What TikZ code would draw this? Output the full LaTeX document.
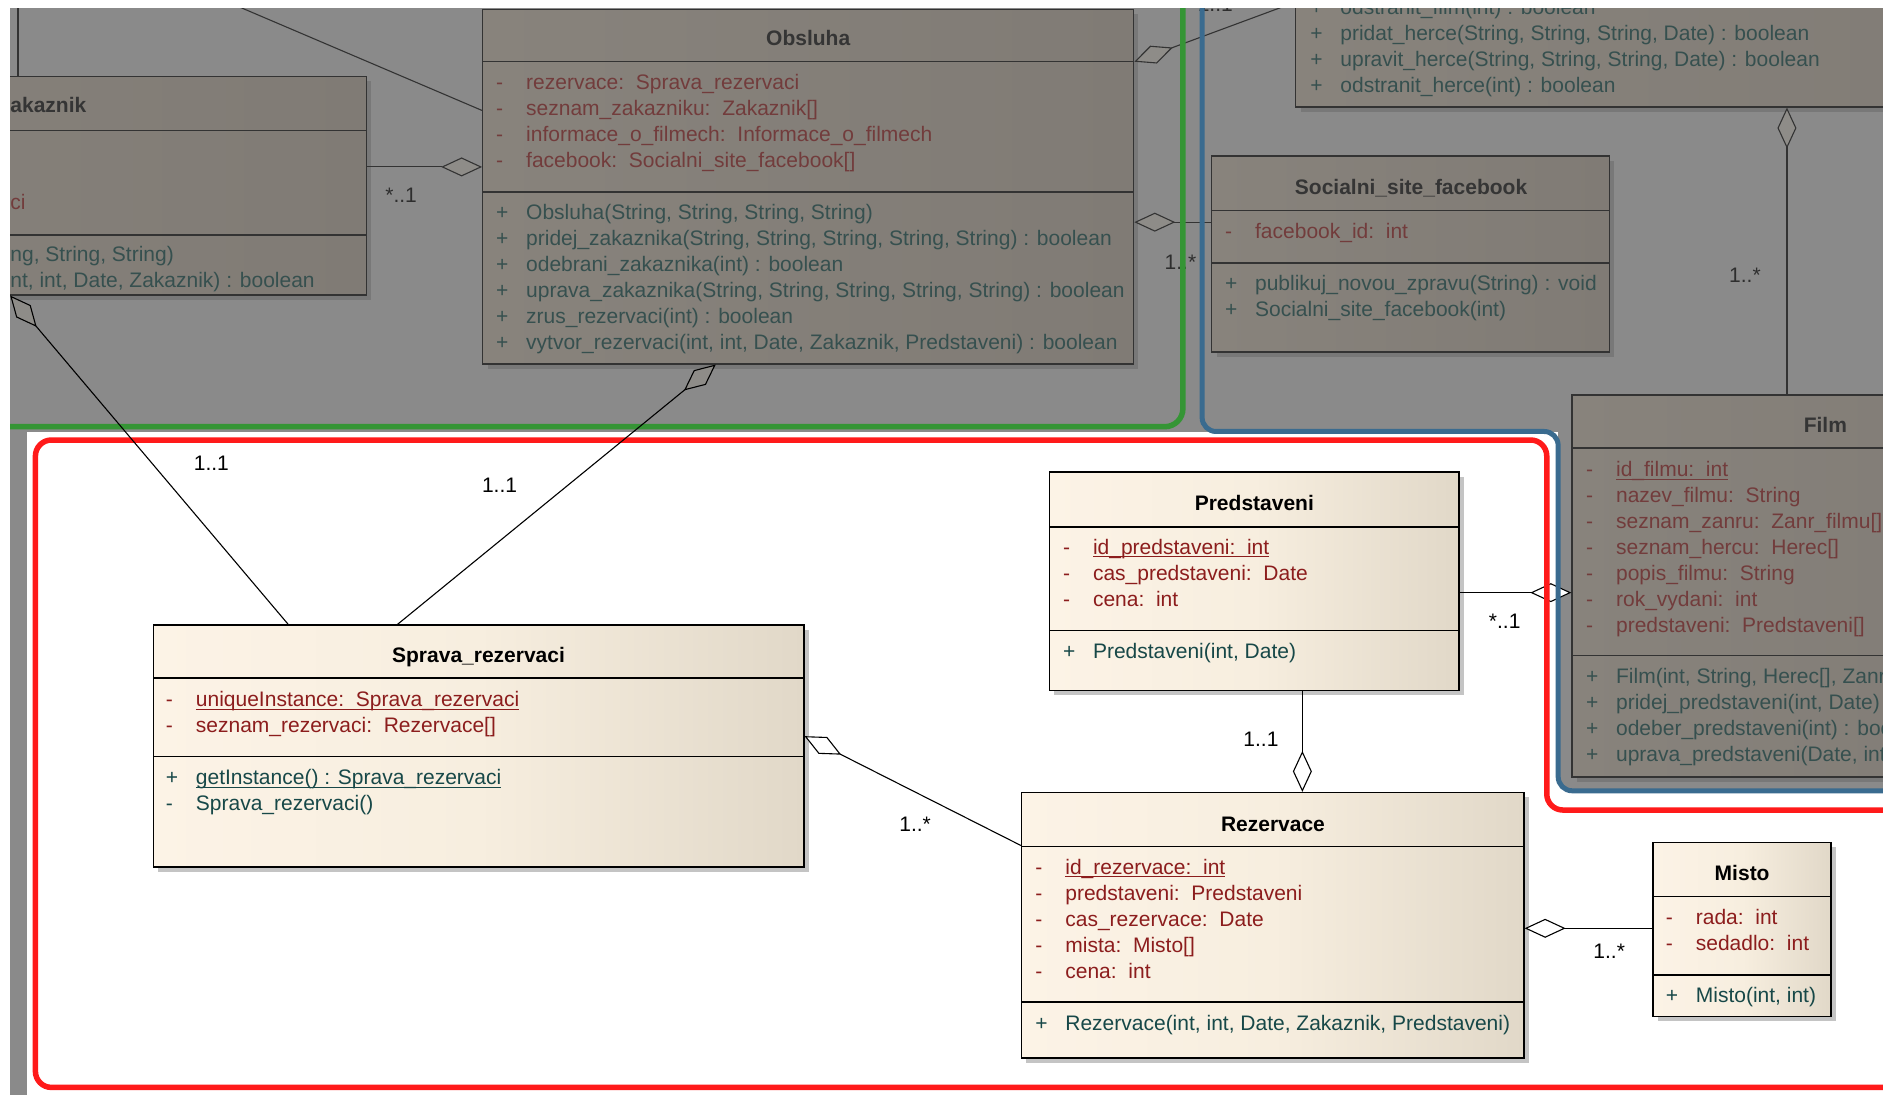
\documentclass[tikz,border=0pt]{standalone}
\usepackage{fontspec}
\setmainfont{Liberation Sans}
\usetikzlibrary{arrows.meta,fit}
\definecolor{cbg}{HTML}{8A8A8A}
\definecolor{cgboxL}{HTML}{88837C}
\definecolor{cgboxR}{HTML}{807B75}
\definecolor{cgshadow}{HTML}{787878}
\definecolor{cgline}{HTML}{333333}
\definecolor{cgtitle}{HTML}{353535}
\definecolor{cgattr}{HTML}{723C3C}
\definecolor{cgops}{HTML}{36504F}
\definecolor{cgdiam}{HTML}{8E8C88}
\definecolor{cglbl}{HTML}{2E2E2E}
\definecolor{cbboxL}{HTML}{FCF3E6}
\definecolor{cbboxM}{HTML}{F7EEDF}
\definecolor{cbboxR}{HTML}{E1D8C8}
\definecolor{cbshadow}{HTML}{C4C4C4}
\definecolor{cbattr}{HTML}{8C1D1D}
\definecolor{cbops}{HTML}{174848}
\definecolor{cregred}{HTML}{FF1A1A}
\definecolor{creggreen}{HTML}{359535}
\definecolor{cregblue}{HTML}{3A6B8F}

\newcommand\vsg[1]{\llap{\makebox[30pt][l]{#1}}}
\newcommand\crows[1]{\begin{tabular}[t]{@{}l@{}}#1\end{tabular}}
\newcommand\uln[1]{\setbox0=\hbox{#1}\rlap{\rule[-3.2pt]{\wd0}{1.1pt}}\box0}

\tikzset{
  txtfont/.style={font=\fontsize{21}{26}\selectfont},
  gbox/.style={draw=cgline, line width=1.3pt, left color=cgboxL, right color=cgboxR, inner sep=0pt},
  bbox/.style={draw=black, line width=1.4pt, left color=cbboxL, right color=cbboxR, middle color=cbboxM, inner sep=0pt},
  gboxshadow/.style={fill=cgshadow},
  bboxshadow/.style={fill=cbshadow},
  gboxsep/.style={draw=cgline, line width=1.3pt},
  bboxsep/.style={draw=black, line width=1.4pt},
  gttl/.style={txtfont, font=\fontsize{21}{26}\selectfont\bfseries, text=cgtitle, anchor=base, inner sep=0pt},
  bttl/.style={txtfont, font=\fontsize{21}{26}\selectfont\bfseries, text=black, anchor=base, inner sep=0pt},
  gatt/.style={txtfont, text=cgattr, anchor=base west, inner sep=0pt},
  gops/.style={txtfont, text=cgops, anchor=base west, inner sep=0pt},
  batt/.style={txtfont, text=cbattr, anchor=base west, inner sep=0pt},
  bops/.style={txtfont, text=cbops, anchor=base west, inner sep=0pt},
  glbl/.style={txtfont, text=cglbl, inner sep=0pt},
  blbl/.style={txtfont, text=black, inner sep=0pt},
  gconn/.style={draw=cgline, line width=1.1pt},
  conn/.style={draw=black, line width=1.1pt},
  wdia/.tip={Diamond[length=41pt,width=19pt,fill=white]},
  gdia/.tip={Diamond[length=41pt,width=19pt,fill=cgdiam]},
  greenline/.style={draw=creggreen, line width=5.5pt, rounded corners=18pt},
  blueline/.style={draw=cregblue, line width=5pt, rounded corners=14pt},
  redline/.style={draw=cregred, line width=5.5pt, rounded corners=16pt},
}

% name, x1, y1, x2, y2, header y, divider y, g/b
\newcommand\umlbox[8]{%
  \fill[#8boxshadow] ({#2+4},{#3+4}) rectangle ({#4+4},{#5+4});
  \node[#8box, fit={(#2,#3) (#4,#5)}] (#1) {};
  \draw[#8boxsep] (#2,#6) -- (#4,#6);
  \draw[#8boxsep] (#2,#7) -- (#4,#7);
}

\begin{document}
\begin{tikzpicture}[x=1.2009pt, y=-1.2009pt]
\useasboundingbox (0,0) rectangle (1568,912);
\clip (0,0) rectangle (1568,912);

% backgrounds
\fill[cbg] (0,0) rectangle (1568,912);
\fill[white] (22.5,360) rectangle (1600,920);
\fill[cbg, rounded corners=14pt] (1297.5,250) -- (1297.5,658.5) -- (1600,658.5) -- (1600,250) -- cycle;

% ---------- grey (dimmed) classes ----------
\umlbox{zak}{-240}{63.8}{305}{245.6}{108.8}{195.7}{g}
\node[gttl, anchor=base west] (zak-t) at (8.5,94) {akaznik};
\node[gatt] (zak-a) at (8.5,174.5) {\crows{ci}};
\node[gops] (zak-o) at (8.5,217.5) {\crows{ng, String, String)\\ nt, int, Date, Zakaznik) : boolean}};

\umlbox{obs}{402}{7.7}{944}{303}{51.4}{160}{g}
\node[gttl] (obs-t) at (673,38) {Obsluha};
\node[gatt] (obs-a) at (438,74.5) {\crows{\vsg{-}rezervace:\ \ Sprava\_rezervaci\\ \vsg{-}seznam\_zakazniku:\ \ Zakaznik[]\\ \vsg{-}informace\_o\_filmech:\ \ Informace\_o\_filmech\\ \vsg{-}facebook:\ \ Socialni\_site\_facebook[]}};
\node[gops] (obs-o) at (438,182.5) {\crows{\vsg{+}Obsluha(String, String, String, String)\\ \vsg{+}pridej\_zakaznika(String, String, String, String, String) : boolean\\ \vsg{+}odebrani\_zakaznika(int) : boolean\\ \vsg{+}uprava\_zakaznika(String, String, String, String, String) : boolean\\ \vsg{+}zrus\_rezervaci(int) : boolean\\ \vsg{+}vytvor\_rezervaci(int, int, Date, Zakaznik, Predstaveni) : boolean}};

\umlbox{soc}{1009}{130}{1340}{293}{175.5}{219}{g}
\node[gttl] (soc-t) at (1175,162) {Socialni\_site\_facebook};
\node[gatt] (soc-a) at (1045,198.5) {\crows{\vsg{-}facebook\_id:\ \ int}};
\node[gops] (soc-o) at (1045,241.5) {\crows{\vsg{+}publikuj\_novou\_zpravu(String) : void\\ \vsg{+}Socialni\_site\_facebook(int)}};

\umlbox{topr}{1079}{-100}{1750}{89}{-80}{-60}{g}
\node[gops] (topr-o) at (1116,12) {\crows{\vsg{+}odstranit\_film(int) : boolean\\ \vsg{+}pridat\_herce(String, String, String, Date) : boolean\\ \vsg{+}upravit\_herce(String, String, String, Date) : boolean\\ \vsg{+}odstranit\_herce(int) : boolean}};

\umlbox{film}{1309}{329}{1731}{647}{373}{546}{g}
\node[gttl] (film-t) at (1520,360) {Film};
\node[gatt] (film-a) at (1345.6,397) {\crows{\vsg{-}\uln{id\_filmu:\ \ int}\\ \vsg{-}nazev\_filmu:\ \ String\\ \vsg{-}seznam\_zanru:\ \ Zanr\_filmu[]\\ \vsg{-}seznam\_hercu:\ \ Herec[]\\ \vsg{-}popis\_filmu:\ \ String\\ \vsg{-}rok\_vydani:\ \ int\\ \vsg{-}predstaveni:\ \ Predstaveni[]}};
\node[gops] (film-o) at (1345.6,569.5) {\crows{\vsg{+}Film(int, String, Herec[], Zanr\_filmu[])\\ \vsg{+}pridej\_predstaveni(int, Date) : boolean\\ \vsg{+}odeber\_predstaveni(int) : boolean\\ \vsg{+}uprava\_predstaveni(Date, int) : boolean}};

% ---------- highlighted classes ----------
\umlbox{spr}{127.6}{520.5}{669.4}{722}{564.7}{630}{b}
\node[bttl] (spr-t) at (398.5,552) {Sprava\_rezervaci};
\node[batt] (spr-a) at (163,588.5) {\crows{\vsg{-}\uln{uniqueInstance:\ \ Sprava\_rezervaci}\\ \vsg{-}seznam\_rezervaci:\ \ Rezervace[]}};
\node[bops] (spr-o) at (163,653.5) {\crows{\vsg{+}\uln{getInstance() : Sprava\_rezervaci}\\ \vsg{-}Sprava\_rezervaci()}};

\umlbox{pre}{874}{393}{1215}{575}{438.8}{525}{b}
\node[bttl] (pre-t) at (1044.5,425) {Predstaveni};
\node[batt] (pre-a) at (910,461.5) {\crows{\vsg{-}\uln{id\_predstaveni:\ \ int}\\ \vsg{-}cas\_predstaveni:\ \ Date\\ \vsg{-}cena:\ \ int}};
\node[bops] (pre-o) at (910,548.5) {\crows{\vsg{+}Predstaveni(int, Date)}};

\umlbox{rez}{850.6}{660}{1269}{881}{705}{834.5}{b}
\node[bttl] (rez-t) at (1060,692) {Rezervace};
\node[batt] (rez-a) at (887,728) {\crows{\vsg{-}\uln{id\_rezervace:\ \ int}\\ \vsg{-}predstaveni:\ \ Predstaveni\\ \vsg{-}cas\_rezervace:\ \ Date\\ \vsg{-}mista:\ \ Misto[]\\ \vsg{-}cena:\ \ int}};
\node[bops] (rez-o) at (887,858.5) {\crows{\vsg{+}Rezervace(int, int, Date, Zakaznik, Predstaveni)}};

\umlbox{mis}{1376.6}{701.7}{1524.8}{846.6}{746.7}{811.9}{b}
\node[bttl] (mis-t) at (1450.7,733) {Misto};
\node[batt] (mis-a) at (1412,769.5) {\crows{\vsg{-}rada:\ \ int\\ \vsg{-}sedadlo:\ \ int}};
\node[bops] (mis-o) at (1412,834.5) {\crows{\vsg{+}Misto(int, int)}};

% ---------- grey connectors ----------
\coordinate (tlfree) at (174,-5);
\draw[gconn] (tlfree) -- (obs.west |- 0,92);
\coordinate (zakfree) at (15,-5);
\draw[gconn] (zakfree) -- (zak.north -| zakfree);
\draw[gconn, -{gdia}] (zak.east |- 0,139) -- (obs.west |- 0,139);
\draw[gconn, -{gdia}] (soc.west |- 0,185) -- (obs.east |- 0,185);
\coordinate (orfree) at (1097,-5);
\draw[gconn, -{gdia}] (orfree) -- (obs.east |- 0,51.4);
\draw[gconn, -{gdia}] (film.north -| 1488,0) -- (topr.south -| 1488,0);
\node[glbl] (lb1) at (334,163) {*..1};
\node[glbl] (lb2) at (983,218) {1..*};
\node[glbl] (lb3) at (1453,229) {1..*};
\node[glbl] (lb4) at (1012,3.5) {1..1};

\draw[conn, -{wdia}] (pre.east |- 0,493.5) -- (film.west |- 0,493.5);

% ---------- region outlines ----------
\draw[greenline] (0,355.3) -- (985,355.3) -- (985,-10);
\draw[blueline] (1001,-10) -- (1001,359.3) -- (1297.5,359.3) -- (1297.5,658.5) -- (1600,658.5);
\draw[redline] (1600,674.5) -- (1288,674.5) -- (1288,366.4) -- (29.5,366.4) -- (29.5,905.5) -- (1600,905.5);

% ---------- connectors crossing into the highlighted region ----------
\draw[conn, -{gdia}] (spr.north -| 240,0) -- (zak.south -| 8.5,0);
\draw[conn, -{gdia}] (spr.north -| 331,0) -- (obs.south -| 596,0);
\draw[conn, -{wdia}] (rez.west |- 0,704) -- (spr.east |- 0,613);
\draw[conn, -{wdia}] (pre.south -| 1084.5,0) -- (rez.north -| 1084.5,0);
\draw[conn, -{wdia}] (mis.west |- 0,773) -- (rez.east |- 0,773);

\node[blbl] (lb5) at (176,385.6) {1..1};
\node[blbl] (lb6) at (416,404) {1..1};
\node[blbl] (lb7) at (1253,517) {*..1};
\node[blbl] (lb8) at (1050,616) {1..1};
\node[blbl] (lb9) at (762,686) {1..*};
\node[blbl] (lb10) at (1340,792) {1..*};

% ---------- white margins ----------
\fill[white] (0,0) rectangle (1568,6.7);
\fill[white] (0,0) rectangle (8.3,912);
\end{tikzpicture}
\end{document}
